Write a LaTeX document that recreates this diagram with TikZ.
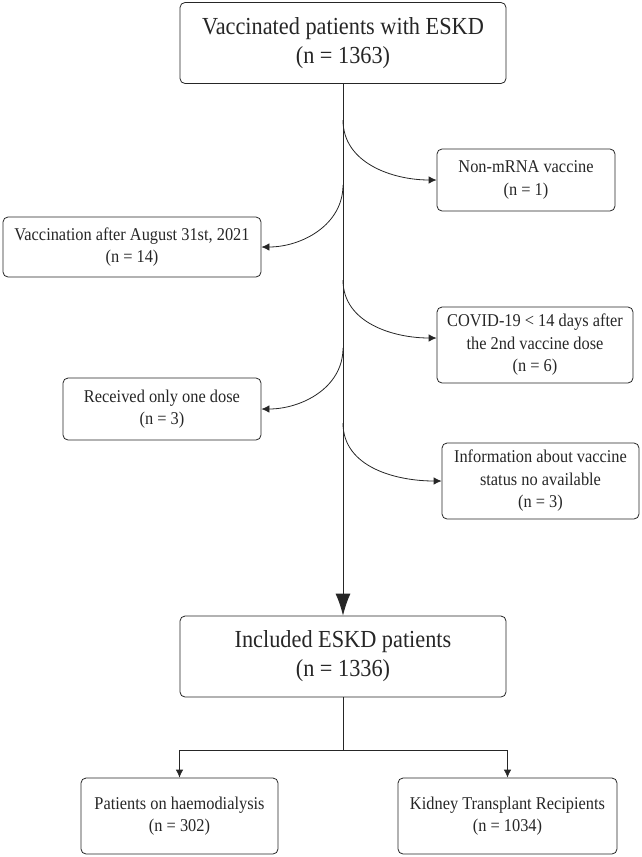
\documentclass[tikz,border=0pt]{standalone}
\usepackage{fontspec}
\setmainfont{Liberation Serif}[FakeStretch=0.91]
\usepackage{tikz}
\usetikzlibrary{arrows.meta}
\tikzset{
	big box/.style={draw,rounded corners=5pt,align=center,inner sep=0pt,
		font=\fontsize{24.5}{29}\selectfont,minimum width=326pt,minimum height=81pt},
	side box/.style={draw,rounded corners=5pt,align=center,inner sep=0pt,
		font=\fontsize{18}{22.5}\selectfont},
	side arrow/.style={-{Latex[length=8pt,width=7.5pt]}},
	main arrow/.style={-{Latex[length=22pt,width=15pt]}}
}

\begin{document}
\begin{tikzpicture}[x=1pt,y=-1pt,line width=0.8pt,color=black!85]
	\useasboundingbox (0,0) rectangle (641,857);
	\node [big box] (vacc) at (343,43) {Vaccinated patients with ESKD\\(n = 1363)};
	\node [side box,minimum width=178pt,minimum height=62pt] (nonmrna) at (526,180) {Non-mRNA vaccine\\(n = 1)};
	\node [side box,minimum width=258pt,minimum height=60pt] (late) at (132,247) {Vaccination after August 31st, 2021\\(n = 14)};
	\node [side box,minimum width=196pt,minimum height=76pt] (covid) at (535,345) {COVID-19 < 14 days after\\the 2nd vaccine dose\\(n = 6)};
	\node [side box,minimum width=198pt,minimum height=62pt] (onedose) at (162,409) {Received only one dose\\(n = 3)};
	\node [side box,minimum width=197pt,minimum height=76pt] (noinfo) at (540.5,481) {Information about vaccine\\status no available\\(n = 3)};
	\node [big box] (incl) at (343,656.5) {Included ESKD patients\\(n = 1336)};
	\node [side box,minimum width=197pt,minimum height=76pt] (hd) at (179.5,816) {Patients on haemodialysis\\(n = 302)};
	\node [side box,minimum width=219pt,minimum height=76pt] (ktr) at (507.5,816) {Kidney Transplant Recipients\\(n = 1034)};

	\draw [main arrow] (vacc) -- (incl);
	\foreach \y/\n in {120/1,185/2,280/3,348/4,423/5}
		\coordinate (b\n) at (343,\y);
	\draw [side arrow] (b1) to[out=-90,in=180] (nonmrna.west);
	\draw [side arrow] (b2) to[out=-90,in=0] (late.east);
	\draw [side arrow] (b3) to[out=-90,in=180] ([yshift=7pt]covid.west);
	\draw [side arrow] (b4) to[out=-90,in=0] (onedose.east);
	\draw [side arrow] (b5) to[out=-90,in=180] (noinfo.west);

	\coordinate (split) at (343,750);
	\draw (incl) -- (split);
	\draw [side arrow] (split) -| (hd);
	\draw [side arrow] (split) -| (ktr);
\end{tikzpicture}
\end{document}
